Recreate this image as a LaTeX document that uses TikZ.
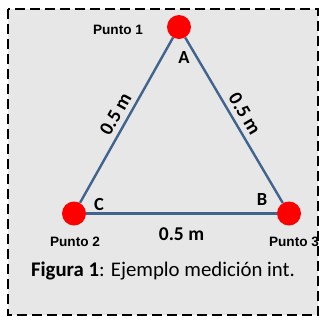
\documentclass[tikz,border=0pt]{standalone}
\usepackage{fontspec}
\setmainfont{Carlito}
\newfontfamily\arialfont{Liberation Sans}
\definecolor{panelgray}{HTML}{E7E7E7}
\definecolor{sideblue}{HTML}{41648F}

\begin{document}
\begin{tikzpicture}[x=1pt,y=-1pt,font=\bfseries]
\tikzset{punto/.style={circle,fill=red,inner sep=0pt,minimum size=24pt},
 side/.style={draw=sideblue,line width=2.4pt},
 punlabel/.style={font=\arialfont\bfseries\fontsize{13.6}{15}\selectfont,inner sep=0pt},
 vlabel/.style={font=\bfseries\fontsize{18.5}{20}\selectfont,inner sep=0pt},
 dlabel/.style={font=\bfseries\fontsize{19.5}{21}\selectfont,inner sep=0pt}}
\useasboundingbox (0,0) rectangle (322,322);
\draw[fill=panelgray,line width=2pt,dash pattern=on 10pt off 5pt] (8,9) rectangle (318,315);
% triangle corners
\node[punto] (A) at (179,27) {};
\node[punto] (C) at (74,213.5) {};
\node[punto] (B) at (289,213.5) {};
\draw[side] (C) -- (A) node[midway,sloped,above=5pt,dlabel] {0.5 m};
\draw[side] (A) -- (B) node[midway,sloped,above=5pt,dlabel] {0.5 m};
\draw[side] (C) -- (B) node[midway,below=13pt,dlabel] {0.5 m};
\node[vlabel] (la) at (184,57) {A};
\node[vlabel] (lb) at (262,199) {B};
\node[vlabel] (lc) at (99,204) {C};
\node[punlabel] (p1) at (118,30) {Punto 1};
\node[punlabel] (p2) at (75,242) {Punto 2};
\node[punlabel] (p3) at (294,242) {Punto 3};
\node[font=\fontsize{20.8}{22}\selectfont,inner sep=0pt] (cap) at (163,271)
 {\textbf{Figura 1}: Ejemplo medición int.};
\end{tikzpicture}
\end{document}
